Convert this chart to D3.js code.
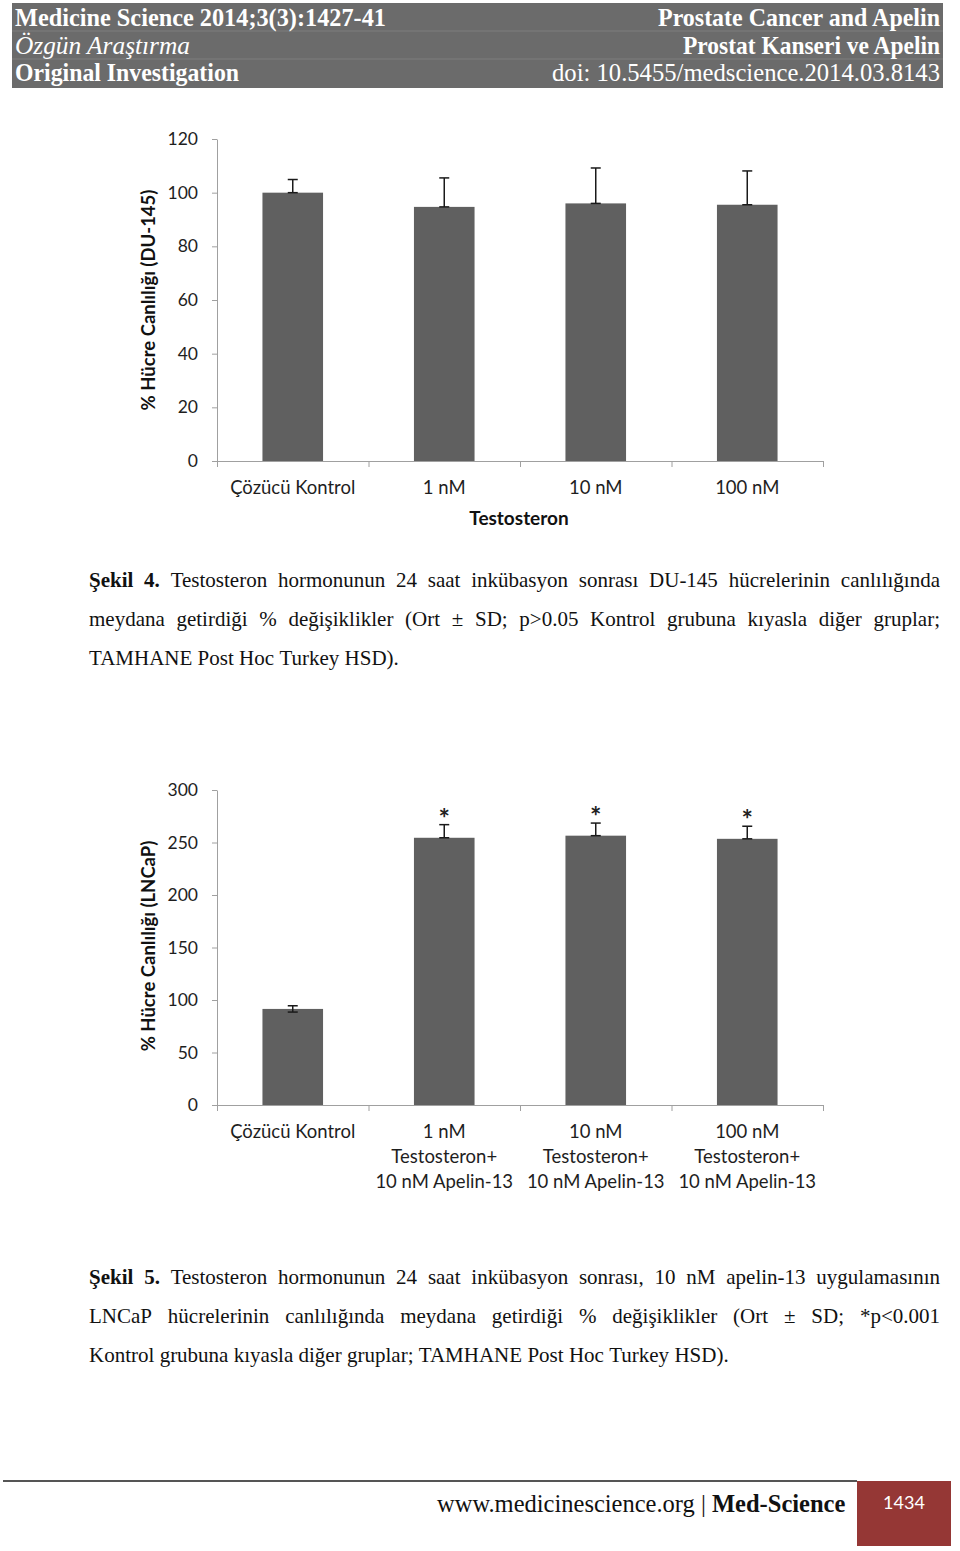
<!DOCTYPE html>
<html>
<head>
<meta charset="utf-8">
<script src="https://cdn.jsdelivr.net/npm/d3@7.9.0/dist/d3.min.js"></script>
<style>
  body { margin: 0; background: #fff; }
  svg { display: block; }
  .tick text { font-family: Lato, sans-serif; }
</style>
</head>
<body>
<svg id="page" width="960" height="1551"></svg>
<script>
// DU-145 chart (Şekil 4)
const du145Groups = [["Çözücü Kontrol"], ["1 nM"], ["10 nM"], ["100 nM"]];
const du145Means = [100, 94.7, 96, 95.5];
const du145SD = [4.9, 10.8, 13.2, 12.6];
const du145Ticks = [0, 20, 40, 60, 80, 100, 120];

// LNCaP chart (Şekil 5)
const lncapGroups = [
  ["Çözücü Kontrol"],
  ["1 nM", "Testosteron+", "10 nM Apelin-13"],
  ["10 nM", "Testosteron+", "10 nM Apelin-13"],
  ["100 nM", "Testosteron+", "10 nM Apelin-13"]
];
const lncapMeans = [91.5, 254.5, 256.5, 253.5];
const lncapSD = [3, 12.5, 12, 12];
const lncapStars = ["", "*", "*", "*"];
const lncapTicks = [0, 50, 100, 150, 200, 250, 300];

const svg = d3.select('#page');
svg.append('rect').attr('width', 960).attr('height', 1551).attr('fill', '#fff');

// header band
const head = svg.append('g');
head.append('rect').attr('x', 12).attr('y', 3).attr('width', 931).attr('height', 85).attr('fill', '#6b6b6b');
[31, 59].forEach(y => head.append('line').attr('x1', 12).attr('x2', 943).attr('y1', y).attr('y2', y)
  .attr('stroke', '#7e7e7e').attr('stroke-width', 1));

const headRows = [
  { left: 'Medicine Science 2014;3(3):1427-41', lw: 371, lstyle: 'bold', right: 'Prostate Cancer and Apelin', rw: 282, rstyle: 'bold', y: 26 },
  { left: 'Özgün Araştırma', lw: 175, lstyle: 'italic', right: 'Prostat Kanseri ve Apelin', rw: 257, rstyle: 'bold', y: 54 },
  { left: 'Original Investigation', lw: 224, lstyle: 'bold', right: 'doi: 10.5455/medscience.2014.03.8143', rw: 388, rstyle: 'normal', y: 81 }
];
headRows.forEach(r => {
  head.append('text').attr('x', 15).attr('y', r.y).text(r.left)
    .attr('font-family', '"Liberation Serif", "Times New Roman", serif').attr('font-size', 25)
    .attr('font-weight', r.lstyle === 'bold' ? 'bold' : 'normal')
    .attr('font-style', r.lstyle === 'italic' ? 'italic' : 'normal')
    .attr('fill', '#fff').attr('textLength', r.lw).attr('lengthAdjust', 'spacingAndGlyphs');
  head.append('text').attr('x', 940 - r.rw).attr('y', r.y).text(r.right)
    .attr('font-family', '"Liberation Serif", "Times New Roman", serif').attr('font-size', 25)
    .attr('font-weight', r.rstyle === 'bold' ? 'bold' : 'normal')
    .attr('fill', '#fff').attr('textLength', r.rw).attr('lengthAdjust', 'spacingAndGlyphs');
});

function drawChart(cfg) {
  const g = svg.append('g');
  const x = d3.scaleBand().domain(d3.range(cfg.means.length)).range([217, 823]).paddingInner(0.6).paddingOuter(0.3);
  const edges = d3.scaleLinear().domain([0, cfg.means.length]).range([217, 823]);
  const y = d3.scaleLinear().domain([0, d3.max(cfg.ticks)]).range([cfg.y0, cfg.y1]);

  // bars
  g.selectAll('rect.bar').data(cfg.means).join('rect')
    .attr('class', 'bar')
    .attr('x', (d, i) => x(i))
    .attr('width', x.bandwidth())
    .attr('y', d => y(d))
    .attr('height', d => y(0) - y(d))
    .attr('fill', '#606060');

  // error bars (plus side)
  const cap = 5;
  cfg.means.forEach((m, i) => {
    const cx = x(i) + x.bandwidth() / 2;
    const lo = cfg.symmetric && cfg.symmetric[i] ? m - cfg.sd[i] : m;
    const hi = m + cfg.sd[i];
    const eb = g.append('g').attr('stroke', '#1a1a1a').attr('stroke-width', 1.5);
    eb.append('line').attr('x1', cx).attr('x2', cx).attr('y1', y(lo)).attr('y2', y(hi));
    eb.append('line').attr('x1', cx - cap).attr('x2', cx + cap).attr('y1', y(hi)).attr('y2', y(hi));
    eb.append('line').attr('x1', cx - cap).attr('x2', cx + cap).attr('y1', y(lo)).attr('y2', y(lo));
    if (cfg.stars && cfg.stars[i]) {
      g.append('text').attr('x', cx).attr('y', y(hi) + 3).attr('text-anchor', 'middle')
        .attr('font-family', 'Lato, sans-serif').attr('font-size', 27).attr('font-weight', 'bold')
        .attr('fill', '#222').text(cfg.stars[i]);
    }
  });

  // y axis
  const ya = g.append('g').attr('transform', 'translate(217,0)')
    .call(d3.axisLeft(y).tickValues(cfg.ticks).tickSizeInner(5).tickSizeOuter(0).tickPadding(14));
  ya.select('.domain').attr('stroke', '#a0a0a0');
  ya.selectAll('.tick line').attr('stroke', '#a0a0a0');
  ya.selectAll('.tick text').attr('font-size', 17.5).attr('fill', '#1e1e1e');

  // x axis
  const xa = g.append('g').attr('transform', `translate(0,${cfg.y0})`)
    .call(d3.axisBottom(edges).tickValues(d3.range(cfg.means.length + 1)).tickFormat('').tickSizeInner(6).tickSizeOuter(0));
  xa.select('.domain').attr('stroke', '#a0a0a0');
  xa.selectAll('.tick line').attr('stroke', '#a0a0a0');

  // category labels
  cfg.groups.forEach((lines, i) => {
    const t = g.append('text').attr('text-anchor', 'middle')
      .attr('font-family', 'Lato, sans-serif').attr('font-size', 18.5).attr('fill', '#1e1e1e');
    lines.forEach((s, k) => {
      t.append('tspan').attr('x', x(i) + x.bandwidth() / 2).attr('y', cfg.y0 + 33 + k * 25).text(s);
    });
  });

  // y title
  g.append('text').attr('transform', `translate(155,${cfg.titleY}) rotate(-90)`)
    .attr('text-anchor', 'middle').attr('font-family', 'Lato, sans-serif')
    .attr('font-size', 18.5).attr('font-weight', 'bold').attr('fill', '#111').text(cfg.yTitle);

  if (cfg.xTitle) {
    g.append('text').attr('x', 519).attr('y', cfg.y0 + 64).attr('text-anchor', 'middle')
      .attr('font-family', 'Lato, sans-serif').attr('font-size', 19).attr('font-weight', 'bold')
      .attr('fill', '#111').text(cfg.xTitle);
  }
}

drawChart({
  groups: du145Groups, means: du145Means, sd: du145SD, ticks: du145Ticks,
  y0: 461, y1: 139, titleY: 300, yTitle: '% Hücre Canlılığı (DU-145)', xTitle: 'Testosteron'
});

drawChart({
  groups: lncapGroups, means: lncapMeans, sd: lncapSD, ticks: lncapTicks, stars: lncapStars,
  symmetric: [true, false, false, false],
  y0: 1105, y1: 790, titleY: 946, yTitle: '% Hücre Canlılığı (LNCaP)'
});

// captions, justified word by word
function captionLine(tokens, y, justify) {
  const x0 = 89, x1 = 940;
  const g = svg.append('g');
  const nodes = tokens.map(tk => g.append('text').attr('y', y)
    .attr('font-family', '"Liberation Serif", "Times New Roman", serif').attr('font-size', 21)
    .attr('font-weight', tk.b ? 'bold' : 'normal').attr('fill', '#111').text(tk.t));
  const widths = nodes.map(n => n.node().getComputedTextLength());
  const total = d3.sum(widths);
  const gap = justify ? (x1 - x0 - total) / (nodes.length - 1) : 5.3;
  let cx = x0;
  nodes.forEach((n, i) => { n.attr('x', cx); cx += widths[i] + gap; });
}
function words(s, bold) { return s.split(' ').map(t => ({ t, b: bold })); }

captionLine([...words('Şekil 4.', true), ...words('Testosteron hormonunun 24 saat inkübasyon sonrası DU-145 hücrelerinin canlılığında')], 587, true);
captionLine(words('meydana getirdiği % değişiklikler (Ort ± SD; p>0.05 Kontrol grubuna kıyasla diğer gruplar;'), 626, true);
captionLine(words('TAMHANE Post Hoc Turkey HSD).'), 665, false);

captionLine([...words('Şekil 5.', true), ...words('Testosteron hormonunun 24 saat inkübasyon sonrası, 10 nM apelin-13 uygulamasının')], 1284, true);
captionLine(words('LNCaP hücrelerinin canlılığında meydana getirdiği % değişiklikler (Ort ± SD; *p<0.001'), 1323, true);
captionLine(words('Kontrol grubuna kıyasla diğer gruplar; TAMHANE Post Hoc Turkey HSD).'), 1362, false);

// footer
svg.append('line').attr('x1', 3).attr('x2', 857).attr('y1', 1481).attr('y2', 1481)
  .attr('stroke', '#555').attr('stroke-width', 2);
const ft = svg.append('text').attr('x', 437).attr('y', 1512)
  .attr('font-family', '"Liberation Serif", "Times New Roman", serif').attr('font-size', 24.5).attr('fill', '#111');
ft.append('tspan').text('www.medicinescience.org | ');
ft.append('tspan').attr('font-weight', 'bold').text('Med-Science');
svg.append('rect').attr('x', 857).attr('y', 1481).attr('width', 94).attr('height', 65).attr('fill', '#953735');
svg.append('text').attr('x', 904).attr('y', 1509).attr('text-anchor', 'middle')
  .attr('font-family', 'Lato, sans-serif').attr('font-size', 18).attr('fill', '#fff').text('1434');
</script>
</body>
</html>
